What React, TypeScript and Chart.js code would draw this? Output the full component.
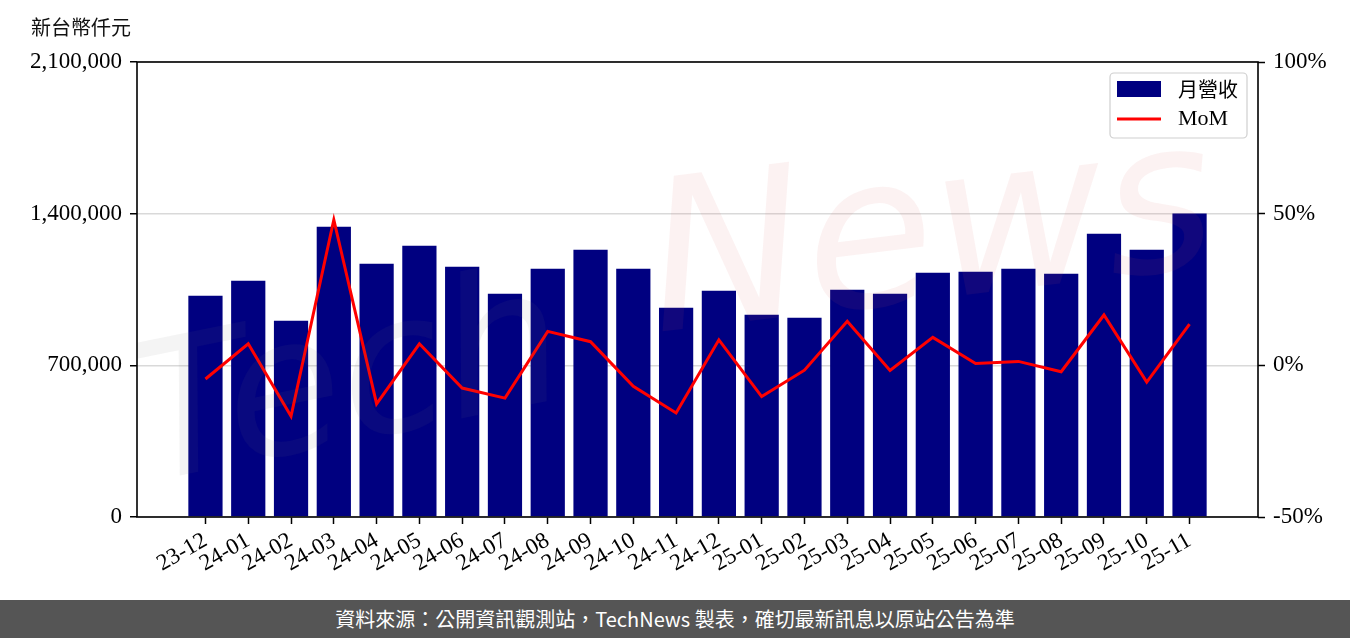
import React, { useEffect, useRef } from "react";
import { Chart, registerables } from "chart.js";

Chart.register(...registerables);

const months = [
  "23-12", "24-01", "24-02", "24-03", "24-04", "24-05", "24-06", "24-07",
  "24-08", "24-09", "24-10", "24-11", "24-12", "25-01", "25-02", "25-03",
  "25-04", "25-05", "25-06", "25-07", "25-08", "25-09", "25-10", "25-11",
];

const revenue = [
  1021600, 1090800, 906200, 1339900, 1169200, 1252200, 1155300, 1030800,
  1146100, 1233800, 1146100, 966200, 1044600, 933900, 920000, 1049200,
  1030800, 1127700, 1132300, 1146100, 1123000, 1307600, 1233800, 1401000,
];

const mom = [
  -4.5, 7.1, -16.8, 48.0, -12.7, 7.1, -7.5, -10.8,
  11.2, 7.8, -6.9, -15.7, 8.4, -10.3, -1.6, 14.5,
  -1.7, 9.2, 0.6, 1.3, -2.1, 16.6, -5.5, 13.6,
];

const leftTicks = [0, 700000, 1400000, 2100000];
const rightTicks = [-50, 0, 50, 100];

const unitLabel = "新台幣仟元";
const barLabel = "月營收";
const lineLabel = "MoM";
const footerText = "資料來源：公開資訊觀測站，TechNews 製表，確切最新訊息以原站公告為準";

const SERIF = "'Liberation Serif', 'Noto Sans CJK TC', serif";
const tickFont = { family: SERIF, size: 23 };

const decorPlugin = {
  id: "decor",
  afterDatasetsDraw(chart: any) {
    const { ctx, chartArea } = chart;
    const { left, right, top, bottom } = chartArea;
    // faint watermark
    ctx.save();
    ctx.beginPath();
    ctx.rect(left, top, right - left, bottom - top);
    ctx.clip();
    ctx.save();
    ctx.translate(left + 10, top + 420);
    ctx.rotate(-0.2);
    ctx.globalAlpha = 0.08;
    ctx.fillStyle = "#777777";
    ctx.font = "italic 190px 'DejaVu Sans'";
    ctx.fillText("Tech", 0, 0);
    ctx.restore();
    ctx.save();
    ctx.translate(left + 520, top + 270);
    ctx.rotate(-0.12);
    ctx.globalAlpha = 0.08;
    ctx.fillStyle = "#d85a5a";
    ctx.font = "italic 210px 'DejaVu Sans'";
    ctx.fillText("News", 0, 0);
    ctx.restore();
    ctx.restore();

    // frame
    ctx.save();
    ctx.strokeStyle = "#000";
    ctx.lineWidth = 1.6;
    ctx.strokeRect(left, top, right - left, bottom - top);
    ctx.restore();
  },
  afterDraw(chart: any) {
    const { ctx, chartArea } = chart;
    const { left, right, top } = chartArea;
    const ds = chart.data.datasets;

    // unit label
    ctx.save();
    ctx.fillStyle = "#111";
    ctx.font = "20px 'Noto Sans CJK TC'";
    ctx.textBaseline = "middle";
    ctx.textAlign = "left";
    ctx.fillText(unitLabel, left - 106, 27);
    ctx.restore();

    // legend
    const bx = right - 148;
    const by = top + 11;
    const bw = 137;
    const bh = 65;
    const r = 4;
    ctx.save();
    ctx.beginPath();
    ctx.moveTo(bx + r, by);
    ctx.lineTo(bx + bw - r, by);
    ctx.arcTo(bx + bw, by, bx + bw, by + r, r);
    ctx.lineTo(bx + bw, by + bh - r);
    ctx.arcTo(bx + bw, by + bh, bx + bw - r, by + bh, r);
    ctx.lineTo(bx + r, by + bh);
    ctx.arcTo(bx, by + bh, bx, by + bh - r, r);
    ctx.lineTo(bx, by + r);
    ctx.arcTo(bx, by, bx + r, by, r);
    ctx.closePath();
    ctx.fillStyle = "rgba(255,255,255,0.85)";
    ctx.fill();
    ctx.strokeStyle = "#cfcfcf";
    ctx.lineWidth = 1.2;
    ctx.stroke();

    const barDs = ds.find((d: any) => d.type === "bar");
    const lineDs = ds.find((d: any) => d.type === "line");
    ctx.fillStyle = barDs.backgroundColor;
    ctx.fillRect(bx + 7, by + 8, 44, 16);
    ctx.strokeStyle = lineDs.borderColor;
    ctx.lineWidth = 3;
    ctx.beginPath();
    ctx.moveTo(bx + 7, by + 46);
    ctx.lineTo(bx + 51, by + 46);
    ctx.stroke();

    ctx.fillStyle = "#000";
    ctx.textBaseline = "middle";
    ctx.textAlign = "left";
    ctx.font = "20px 'Noto Sans CJK TC'";
    ctx.fillText(barDs.label, bx + 68, by + 16);
    ctx.font = "22px 'Liberation Serif'";
    ctx.fillText(lineDs.label, bx + 68, by + 46);
    ctx.restore();
  },
};

function ChartView() {
  const ref = useRef<HTMLCanvasElement | null>(null);

  useEffect(() => {
    const prevMargin = document.body.style.margin;
    document.body.style.margin = "0";
    const canvas = ref.current;
    if (!canvas) return;
    const chart = new Chart(canvas, {
      data: {
        datasets: [
          {
            type: "line" as const,
            label: lineLabel,
            data: mom.map((v, i) => ({ x: i, y: v })),
            yAxisID: "y1",
            xAxisID: "x",
            borderColor: "#ff0000",
            backgroundColor: "#ff0000",
            borderWidth: 3,
            pointRadius: 0,
            tension: 0,
            order: 0,
          },
          {
            type: "bar" as const,
            label: barLabel,
            data: revenue.map((v, i) => ({ x: i, y: v })),
            yAxisID: "y",
            xAxisID: "x",
            backgroundColor: "#000080",
            borderWidth: 0,
            barPercentage: 0.8,
            categoryPercentage: 1,
            order: 1,
          },
        ],
      },
      options: {
        animation: false,
        responsive: false,
        devicePixelRatio: 1,
        layout: { padding: { top: 62, left: 0, right: 0, bottom: 0 } },
        plugins: {
          legend: { display: false },
          tooltip: { enabled: false },
          title: { display: false },
        },
        scales: {
          x: {
            type: "linear",
            min: -1.6,
            max: months.length - 1 + 1.6,
            offset: false,
            afterBuildTicks: (scale: any) => {
              scale.ticks = months.map((_, i) => ({ value: i }));
            },
            afterFit: (scale: any) => {
              scale.height = 83;
            },
            ticks: {
              autoSkip: false,
              maxRotation: 30,
              minRotation: 30,
              padding: 3,
              color: "#000",
              font: tickFont,
              callback: (v: any) => months[Math.round(Number(v))] ?? "",
            },
            grid: {
              offset: false,
              drawOnChartArea: false,
              drawTicks: true,
              tickLength: 7,
              tickColor: "#000",
              tickWidth: 1.5,
            },
            border: { display: false },
          },
          y: {
            type: "linear",
            position: "left",
            min: 0,
            max: 2100000,
            afterBuildTicks: (scale: any) => {
              scale.ticks = leftTicks.map((v) => ({ value: v }));
            },
            afterFit: (scale: any) => {
              scale.width = 137;
            },
            ticks: {
              padding: 8,
              color: "#000",
              font: tickFont,
              callback: (v: any) => Number(v).toLocaleString("en-US"),
            },
            grid: {
              color: "#d9d9d9",
              lineWidth: 1.5,
              drawTicks: true,
              tickLength: 7,
              tickColor: "#000",
              tickWidth: 1.5,
            },
            border: { display: false },
          },
          y1: {
            type: "linear",
            position: "right",
            min: -50,
            max: 100,
            afterBuildTicks: (scale: any) => {
              scale.ticks = rightTicks.map((v) => ({ value: v }));
            },
            afterFit: (scale: any) => {
              scale.width = 92;
            },
            ticks: {
              padding: 8,
              color: "#000",
              font: tickFont,
              callback: (v: any) => `${v}%`,
            },
            grid: {
              drawOnChartArea: false,
              drawTicks: true,
              tickLength: 7,
              tickColor: "#000",
              tickWidth: 1.5,
            },
            border: { display: false },
          },
        },
      },
      plugins: [decorPlugin],
    } as any);
    return () => {
      chart.destroy();
      document.body.style.margin = prevMargin;
    };
  }, []);

  return (
    <div lang="zh-TW" style={{ width: 1350, height: 638, position: "relative", background: "#fff" }}>
      <canvas ref={ref} width={1350} height={600} style={{ display: "block", width: 1350, height: 600 }} />
      <div
        lang="zh-TW"
        style={{
          height: 38,
          width: 1350,
          background: "#555555",
          color: "#ffffff",
          fontFamily: "'Noto Sans CJK TC', sans-serif",
          fontSize: 20,
          lineHeight: "38px",
          textAlign: "center",
          whiteSpace: "nowrap",
        }}
      >
        {footerText}
      </div>
    </div>
  );
}

export default function App() {
  return <ChartView />;
}
